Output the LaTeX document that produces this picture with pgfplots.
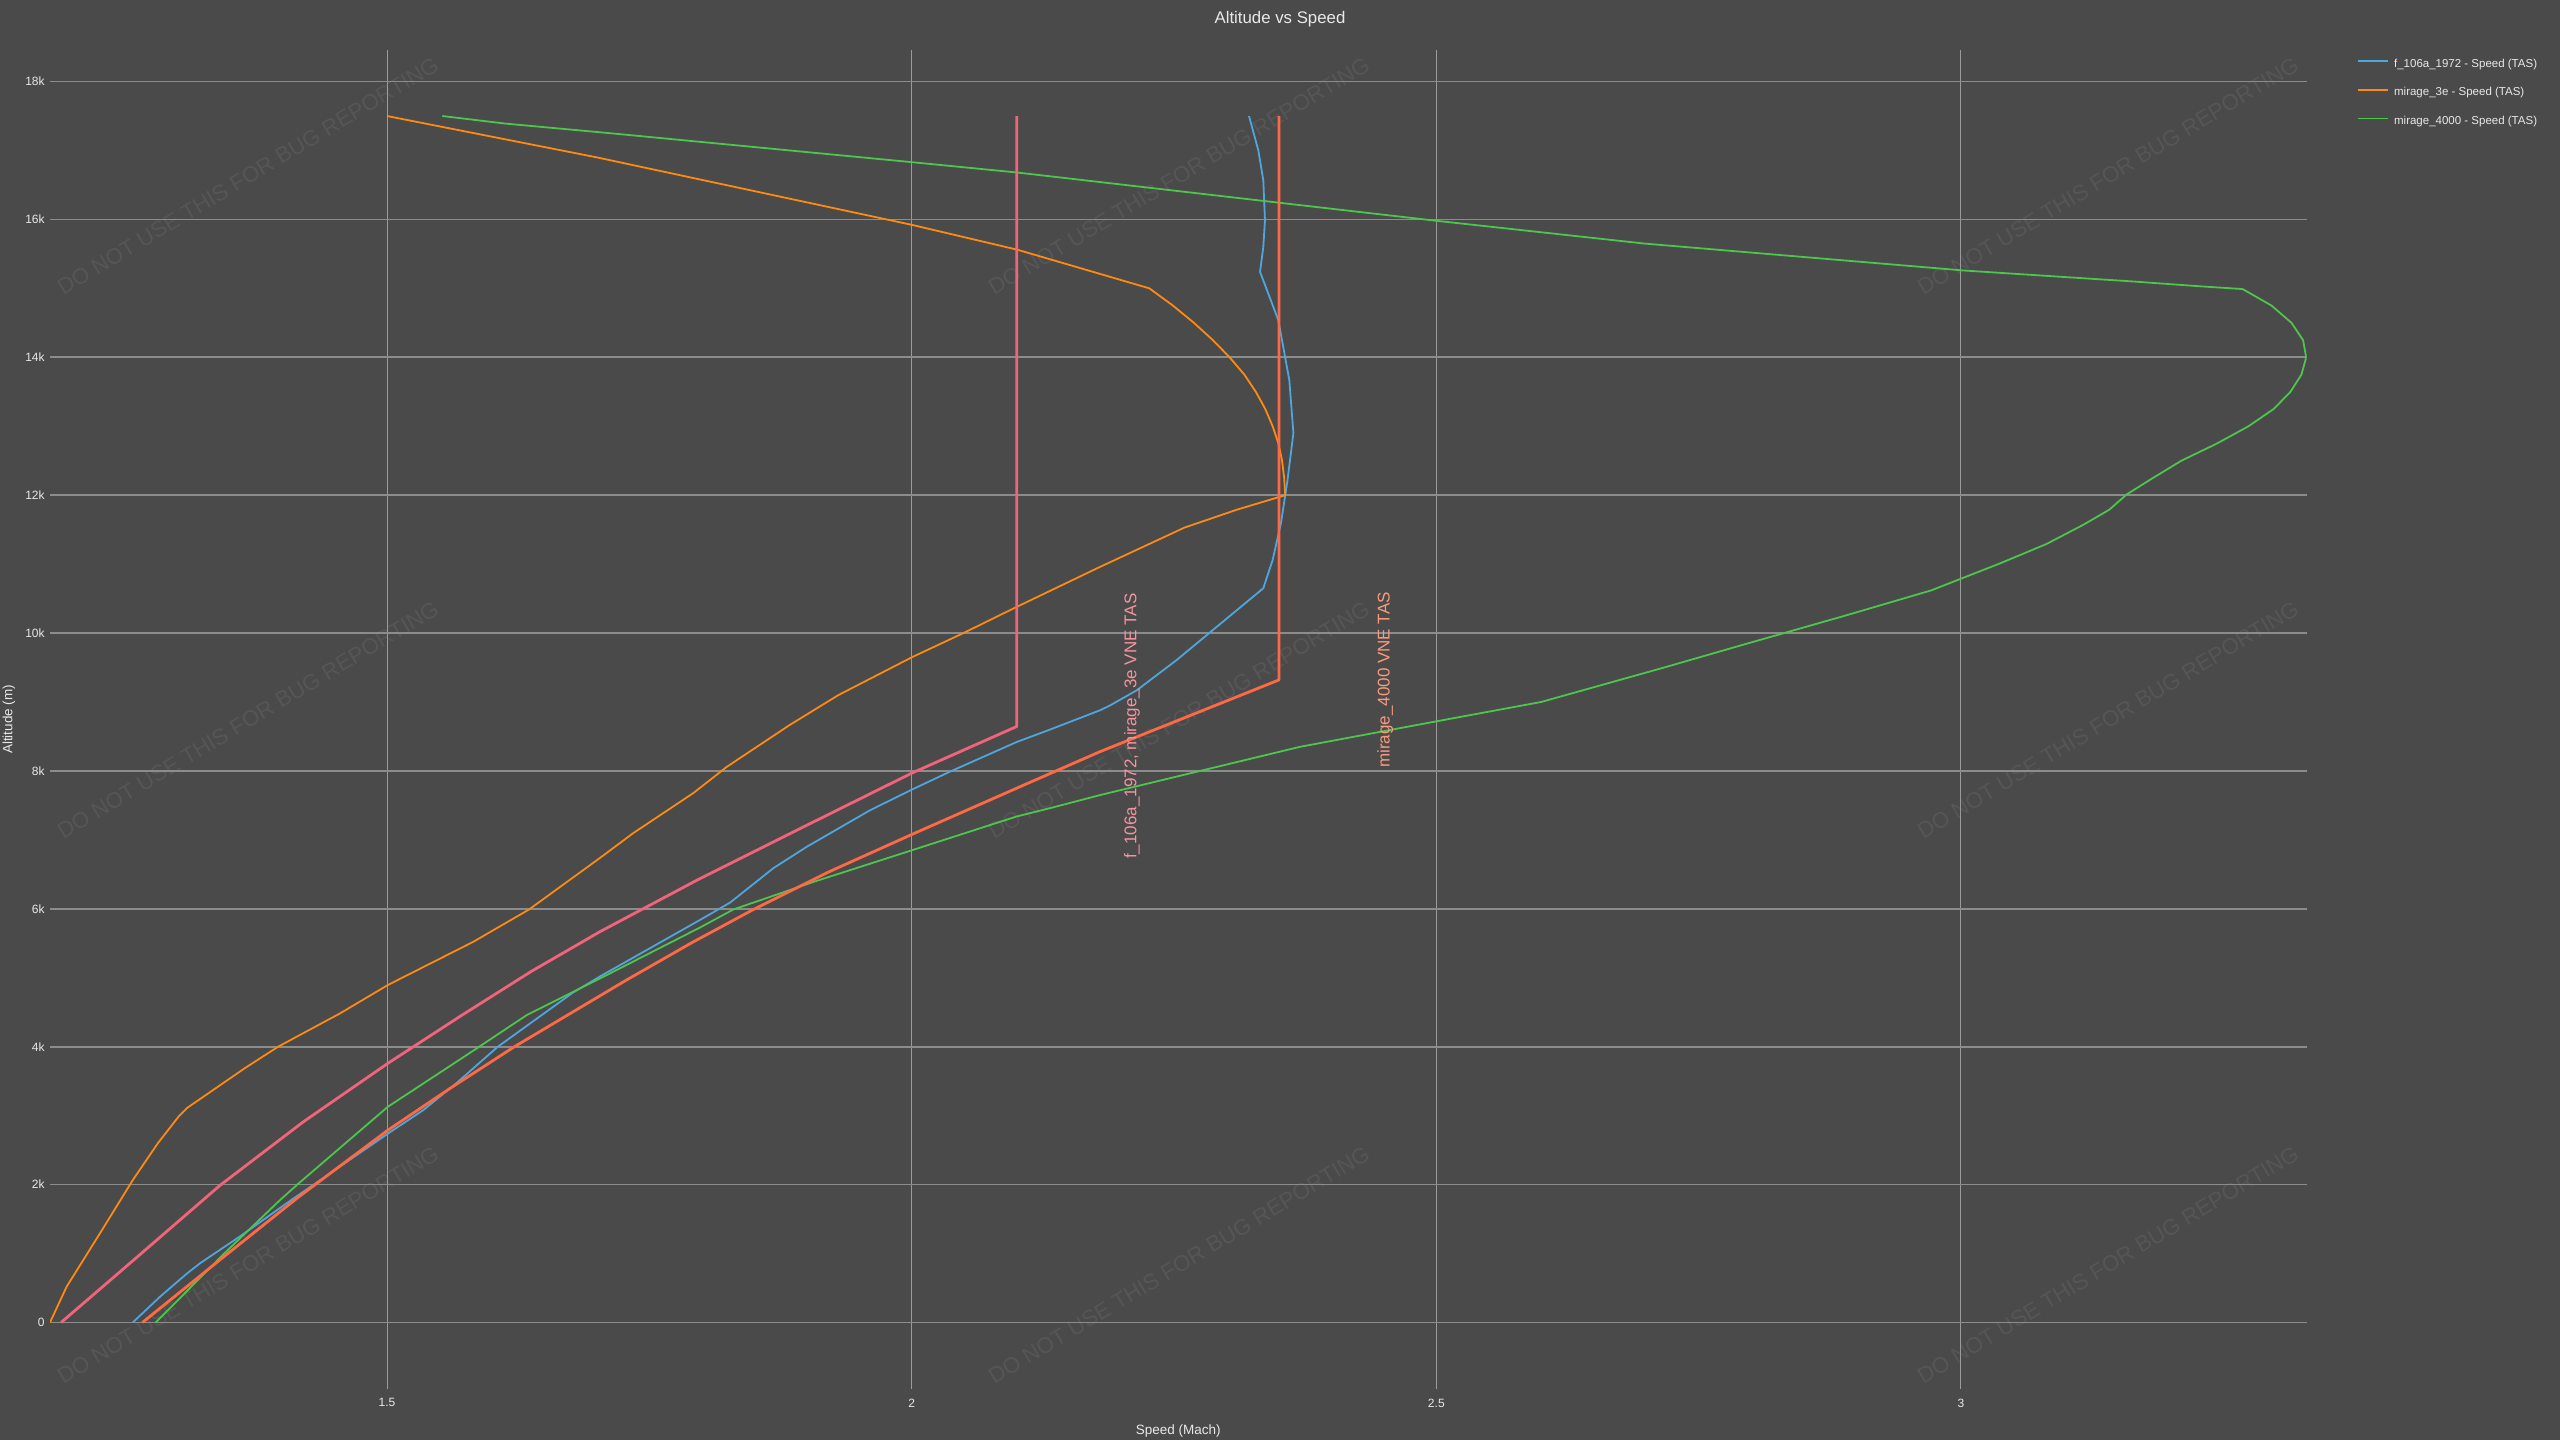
\documentclass[border=0pt]{standalone}
\usepackage{fontspec}
\setmainfont{Liberation Sans}
\usepackage{pgfplots}
\usepackage{pgfplotstable}
\pgfplotsset{compat=1.18}

\definecolor{bg}{HTML}{4A4A4A}
\definecolor{gridh}{HTML}{8C8C8C}
\definecolor{gridv}{HTML}{9A9A9A}
\definecolor{txt}{HTML}{E8E8E8}
\definecolor{wm}{HTML}{565656}
\definecolor{fblue}{HTML}{4FA6DE}
\definecolor{morange}{HTML}{FF8A12}
\definecolor{mgreen}{HTML}{4CC64C}
\definecolor{vnepink}{HTML}{F2637C}
\definecolor{vnered}{HTML}{FF6A45}
\definecolor{lblpink}{HTML}{F5939F}
\definecolor{lblred}{HTML}{F89A7E}

% f_106a_1972 - true airspeed (Mach) vs altitude (m)
\pgfplotstableread{
mach alt
1.2577 0
1.2837 374
1.3093 710
1.3219 860
1.3600 1250
1.4100 1790
1.5009 2740
1.5345 3080
1.5660 3470
1.6056 4000
1.6767 4780
1.7030 5020
1.7984 5840
1.8269 6090
1.8682 6590
1.9000 6900
1.9603 7430
2.0003 7730
2.0365 7990
2.1001 8420
2.1318 8600
2.1795 8880
2.1890 8950
2.2145 9170
2.2526 9610
2.3351 10650
2.3440 11060
2.3520 11600
2.3580 12200
2.3638 12900
2.3599 13670
2.3494 14540
2.3320 15240
2.3351 15600
2.3367 15990
2.3351 16570
2.3304 17000
2.3215 17500
}\tblF

% mirage_3e
\pgfplotstableread{
mach alt
1.1788 0
1.1947 520
1.2263 1290
1.2579 2070
1.2816 2600
1.3013 2985
1.3093 3110
1.3646 3690
1.3962 4000
1.4554 4485
1.5009 4896
1.5820 5520
1.6353 5990
1.7031 6740
1.7348 7100
1.7920 7680
1.8238 8060
1.8841 8670
1.9301 9100
2.0003 9650
2.0493 10000
2.1001 10380
2.1795 10960
2.2600 11530
2.3100 11790
2.3560 12000
2.3550 12250
2.3530 12500
2.3495 12750
2.3440 13000
2.3370 13250
2.3280 13500
2.3170 13750
2.3030 14000
2.2870 14250
2.2690 14500
2.2490 14750
2.2266 15000
2.1009 15560
2.0006 15920
1.7000 16900
1.5000 17500
}\tblM

% mirage_4000
\pgfplotstableread{
mach alt
1.2796 0
1.3448 1000
1.3981 1777
1.4160 2020
1.5009 3130
1.5740 3860
1.6333 4460
1.7030 4990
1.7984 5730
1.8300 5990
1.9063 6390
2.0003 6850
2.1001 7340
2.1318 7460
2.1795 7650
2.3701 8350
2.5002 8720
2.5998 9000
2.7170 9500
2.7968 9850
2.8890 10250
2.9718 10620
3.0019 10800
3.0371 11010
3.0812 11290
3.1165 11570
3.1414 11790
3.1578 12010
3.1830 12250
3.2100 12500
3.2440 12750
3.2740 13000
3.2980 13250
3.3140 13500
3.3245 13750
3.3290 14000
3.3260 14250
3.3150 14500
3.2960 14750
3.2684 14990
3.2278 15030
3.1642 15100
3.0019 15260
2.6983 15650
2.5002 15980
2.3515 16240
2.1009 16680
2.0006 16830
1.7131 17250
1.6129 17390
1.5527 17500
}\tblG

% VNE limits
\pgfplotstableread{
mach alt
1.1894 0
1.2600 925
1.3409 1990
1.4200 2908
1.5009 3760
1.5700 4444
1.6372 5090
1.7031 5670
1.7984 6440
1.9000 7212
2.0003 7970
2.1001 8645
2.1001 17500
}\tblVa

\pgfplotstableread{
mach alt
1.2669 0
1.3400 899
1.4140 1800
1.5009 2790
1.5600 3395
1.6214 4000
1.7285 4970
1.7900 5505
1.8491 5990
1.9200 6529
2.0003 7080
2.1001 7750
2.1795 8280
2.3500 9320
2.3500 17500
}\tblVb

\begin{document}
\begin{tikzpicture}
\fill[bg] (0pt,0pt) rectangle (1280pt,720pt);
\useasboundingbox (0pt,0pt) rectangle (1280pt,720pt);

% repeated watermark
\foreach \wx in {124,589.5,1054}{%
  \foreach \wy in {632,360,87.5}{%
    \node[rotate=31, text=wm, inner sep=0pt, font=\fontsize{11.1}{13}\selectfont]
      at (\wx pt,\wy pt) {DO NOT USE THIS FOR BUG REPORTING};}}

\node[text=txt, inner sep=0pt, font=\fontsize{8.4}{10}\selectfont] at (640pt,710.5pt) {Altitude vs Speed};

\begin{axis}[
  at={(25pt,25.5pt)}, anchor=south west,
  scale only axis, width=1128.35pt, height=669.5pt,
  xmin=1.1788, xmax=3.3295, ymin=-965, ymax=18458,
  scaled x ticks=false, scaled y ticks=false,
  axis line style={draw=none},
  major tick length=0pt, tick style={draw=none},
  xtick={1.5,2,2.5,3}, xticklabels={1.5,2,2.5,3},
  ytick={0,2000,4000,6000,8000,10000,12000,14000,16000,18000},
  yticklabels={0,2k,4k,6k,8k,10k,12k,14k,16k,18k},
  xmajorgrids, ymajorgrids,
  x grid style={draw=gridv, line width=0.5pt},
  y grid style={draw=gridh, line width=0.9pt},
  ticklabel style={font=\fontsize{6}{7}\selectfont, text=txt, inner sep=0pt},
  xticklabel style={anchor=north},
  yticklabel style={anchor=east},
  xticklabel shift=4.65pt, yticklabel shift=2.5pt,
  xlabel={Speed (Mach)}, ylabel={Altitude (m)},
  every axis x label/.style={at={(rel axis cs:0.5,-0.0314)}, anchor=center,
    font=\fontsize{6.75}{8}\selectfont, text=txt, inner sep=0pt},
  every axis y label/.style={at={(rel axis cs:-0.0182,0.5)}, rotate=90, anchor=center,
    font=\fontsize{6.75}{8}\selectfont, text=txt, inner sep=0pt},
  legend style={draw=none, fill=none, at={(rel axis cs:1,1)}, anchor=north west,
    xshift=25.15pt, yshift=-4.25pt, inner sep=0pt, outer sep=0pt,
    row sep=8.9pt, column sep=2.65pt,
    font=\fontsize{5.75}{6.5}\selectfont, text=txt,
    nodes={inner sep=0pt, text height=4.3pt, text depth=1.2pt}},
  legend cell align=left,
  legend image code/.code={\draw[#1] (0pt,1.55pt) -- (15pt,1.55pt);},
]
\addplot[fblue, line width=0.9pt, line join=round] table[x=mach,y=alt] {\tblF};
\addlegendentry{f\_106a\_1972 - Speed (TAS)}
\addplot[morange, line width=0.9pt, line join=round] table[x=mach,y=alt] {\tblM};
\addlegendentry{mirage\_3e - Speed (TAS)}
\addplot[mgreen, line width=0.9pt, line join=round] table[x=mach,y=alt] {\tblG};
\addlegendentry{mirage\_4000 - Speed (TAS)}

\addplot[vnepink, line width=1.4pt, line join=round, forget plot] table[x=mach,y=alt] {\tblVa};
\addplot[vnered, line width=1.4pt, line join=round, forget plot] table[x=mach,y=alt] {\tblVb};

\node[rotate=90, text=lblpink, inner sep=0pt, font=\fontsize{8.5}{10}\selectfont]
  at (axis cs:2.21,8650) {f\_106a\_1972, mirage\_3e VNE TAS};
\node[rotate=90, text=lblred, inner sep=0pt, font=\fontsize{8.5}{10}\selectfont]
  at (axis cs:2.4513,9320) {mirage\_4000 VNE TAS};
\end{axis}
\end{tikzpicture}
\end{document}
